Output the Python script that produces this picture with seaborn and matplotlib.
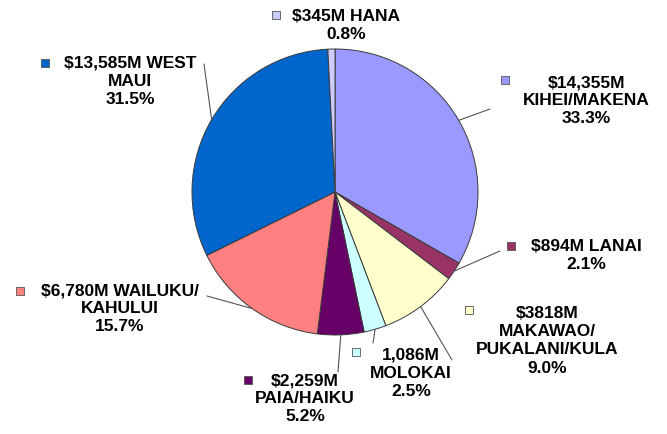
import numpy as np
import seaborn as sns
import matplotlib.pyplot as plt

# values in $M, clockwise from 12 o'clock
regions = ["KIHEI/MAKENA", "LANAI", "MAKAWAO/PUKALANI/KULA", "MOLOKAI",
           "PAIA/HAIKU", "WAILUKU/KAHULUI", "WEST MAUI", "HANA"]
values = [14355, 894, 3818, 1086, 2259, 6780, 13585, 345]
labels = ["$14,355M\nKIHEI/MAKENA\n33.3%",
          "$894M LANAI\n2.1%",
          "$3818M\nMAKAWAO/\nPUKALANI/KULA\n9.0%",
          "1,086M\nMOLOKAI\n2.5%",
          "$2,259M\nPAIA/HAIKU\n5.2%",
          "$6,780M WAILUKU/\nKAHULUI\n15.7%",
          "$13,585M WEST\nMAUI\n31.5%",
          "$345M HANA\n0.8%"]
colors = ["#9999FF", "#993366", "#FFFFCC", "#CCFFFF",
          "#660066", "#FF8080", "#0066CC", "#CCCCFF"]

# label layout in pixels: text centre x, first line y, key marker x, y, leader end (or None)
W, H = 667, 434
CX, CY, R = 335, 192, 143
text_pos = [(586, 82), (586, 246), (547, 313), (411, 355),
            (305, 380), (120, 290), (130, 63), (346, 16)]
key_pos = [(505, 80), (511, 246), (469, 310), (356, 352),
           (248, 380), (20, 291), (45, 63), (276, 15)]
leader_end = [(490, 109), (500, 251), (452, 360), (373, 343),
              (338, 372), (207, 296), (204, 64), None]


def px(x, y):
    return (x - CX) / R, (CY - y) / R


sns.set_theme(style="white")
plt.rcParams['font.family'] = ['Liberation Sans', 'DejaVu Sans']

fig = plt.figure(figsize=(W / 100, H / 100), dpi=100)
ax = fig.add_axes([0, 0, 1, 1])
wedges, _ = ax.pie(values, colors=colors, startangle=90, counterclock=False,
                   radius=1, wedgeprops=dict(edgecolor="#3a3a3a", linewidth=0.7))
ax.set_aspect("auto")
ax.set_xlim(-CX / R, (W - CX) / R)
ax.set_ylim((CY - H) / R, CY / R)
ax.axis("off")

for i, w in enumerate(wedges):
    tx, ty = px(*text_pos[i])
    ax.text(tx, ty + 7 / R, labels[i], ha="center", va="top", fontsize=12.5,
            fontweight="bold", color="black", linespacing=1.27)
    kx, ky = px(*key_pos[i])
    ax.plot(kx, ky, marker="s", markersize=6, color=colors[i],
            markeredgecolor="#555555", markeredgewidth=0.6)
    if leader_end[i] is not None:
        mid = np.deg2rad((w.theta1 + w.theta2) / 2)
        sx, sy = np.cos(mid), np.sin(mid)
        ex, ey = px(*leader_end[i])
        ax.plot([sx, ex], [sy, ey], color="#555555", linewidth=0.8)

fig.savefig("out.png", dpi=100)
